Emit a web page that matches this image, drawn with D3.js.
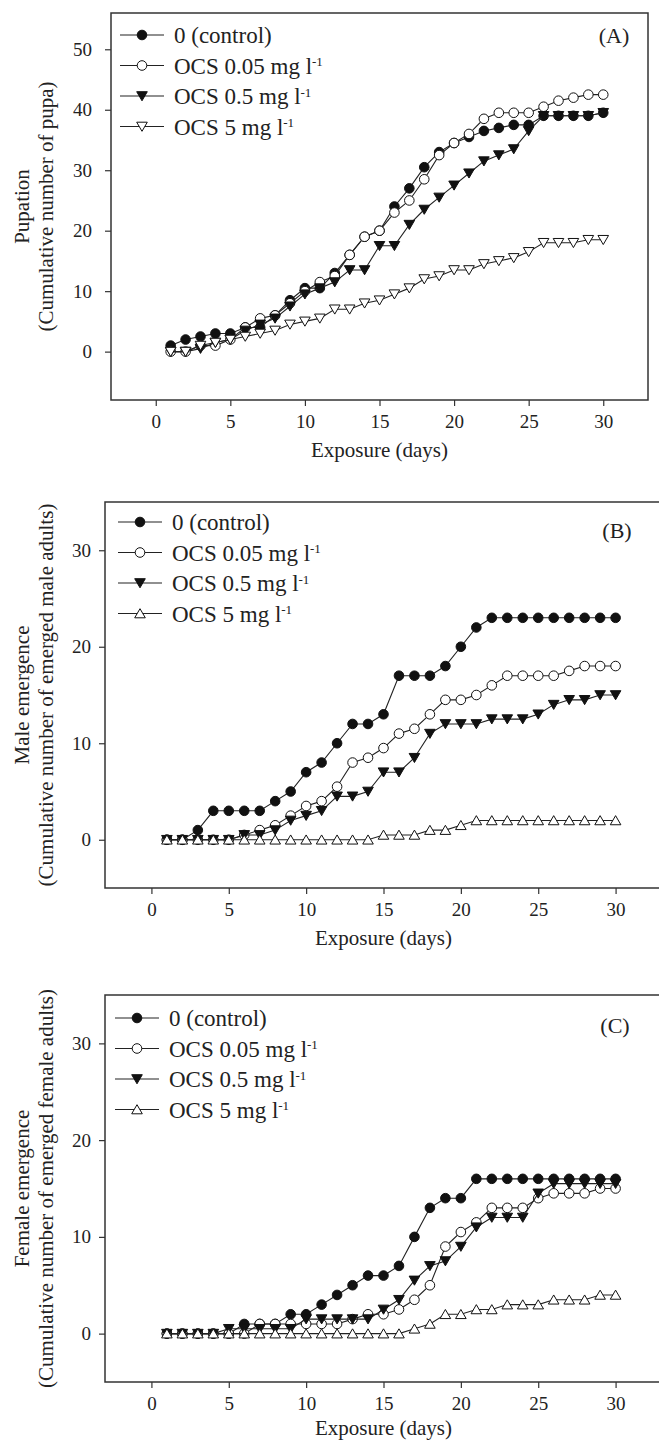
<!DOCTYPE html>
<html>
<head>
<meta charset="utf-8">
<script src="https://cdn.jsdelivr.net/npm/d3@7"></script>
<style>
  body { margin: 0; background: #fff; }
  svg { display: block; }
  text { font-family: "Liberation Serif", "Times New Roman", serif; fill: #222; }
</style>
</head>
<body>
<svg id="chart" width="659" height="1442"></svg>
<script>
// exposure days (x categories)
const days = [1, 2, 3, 4, 5, 6, 7, 8, 9, 10, 11, 12, 13, 14, 15,
              16, 17, 18, 19, 20, 21, 22, 23, 24, 25, 26, 27, 28, 29, 30];

const xTicks = [0, 5, 10, 15, 20, 25, 30];
const yTicksPupa = [0, 10, 20, 30, 40, 50];
const yTicksAdult = [0, 10, 20, 30];

// legend entries: main text + superscript
const legendNames = ["0 (control)", "OCS 0.05 mg l", "OCS 0.5 mg l", "OCS 5 mg l"];
const legendSup = ["", "-1", "-1", "-1"];

// (A) pupation, cumulative number of pupa
const pupaControl = [1, 2, 2.5, 3, 3, 4, 4, 6, 8.5, 10.5, 10.5, 13, 16, 19, 20,
                     24, 27, 30.5, 33, 34.5, 35.5, 36.5, 37, 37.5, 37.5, 39, 39, 39, 39, 39.5];
const pupa005 = [0, 0, 1, 1, 2, 4, 5.5, 6, 8, 10, 11.5, 12.5, 16, 19, 20,
                 23, 25, 28.5, 32.5, 34.5, 36, 38.5, 39.5, 39.5, 39.5, 40.5, 41.5, 42, 42.5, 42.5];
const pupa05 = [0, 0, 0.5, 1.5, 2, 3.5, 4.5, 5.5, 7.5, 9.5, 10.5, 11.5, 13.5, 13.5, 17.5,
                17.5, 21, 23.5, 25.5, 27.5, 29.5, 31.5, 32.5, 33.5, 36.5, 39, 39, 39, 39, 39.5];
const pupa5 = [0, 0, 1, 1.5, 2, 2.5, 3, 3.5, 4.5, 5, 5.5, 7, 7, 8, 8.5,
               9.5, 10.5, 12, 12.5, 13.5, 13.5, 14.5, 15, 15.5, 16.5, 18, 18, 18, 18.5, 18.5];

// (B) male emergence
const maleControl = [0, 0, 1, 3, 3, 3, 3, 4, 5, 7, 8, 10, 12, 12, 13,
                     17, 17, 17, 18, 20, 22, 23, 23, 23, 23, 23, 23, 23, 23, 23];
const male005 = [0, 0, 0, 0, 0, 0.5, 1, 1.5, 2.5, 3.5, 4, 5.5, 8, 8.5, 9.5,
                 11, 11.5, 13, 14.5, 14.5, 15, 16, 17, 17, 17, 17, 17.5, 18, 18, 18];
const male05 = [0, 0, 0, 0, 0, 0.5, 0.5, 1, 2, 2.5, 3, 4.5, 4.5, 5, 7,
                7, 8.5, 11, 12, 12, 12, 12.5, 12.5, 12.5, 13, 14, 14.5, 14.5, 15, 15];
const male5 = [0, 0, 0, 0, 0, 0, 0, 0, 0, 0, 0, 0, 0, 0, 0.5,
               0.5, 0.5, 1, 1, 1.5, 2, 2, 2, 2, 2, 2, 2, 2, 2, 2];

// (C) female emergence
const femaleControl = [0, 0, 0, 0, 0, 1, 1, 1, 2, 2, 3, 4, 5, 6, 6,
                       7, 10, 13, 14, 14, 16, 16, 16, 16, 16, 16, 16, 16, 16, 16];
const female005 = [0, 0, 0, 0, 0, 0, 1, 1, 1, 1, 1, 1, 1.5, 2, 2,
                   2.5, 3.5, 5, 9, 10.5, 11.5, 13, 13, 13, 14, 14.5, 14.5, 14.5, 15, 15];
const female05 = [0, 0, 0, 0, 0.5, 0.5, 0.5, 0.5, 0.5, 1.5, 1.5, 1.5, 1.5, 1.5, 2.5,
                  3.5, 5.5, 7, 7.5, 9, 11, 12, 12, 12, 14.5, 15.5, 15.5, 15.5, 15.5, 15.5];
const female5 = [0, 0, 0, 0, 0, 0, 0, 0, 0, 0, 0, 0, 0, 0, 0,
                 0, 0.5, 1, 2, 2, 2.5, 2.5, 3, 3, 3, 3.5, 3.5, 3.5, 4, 4];

// panel layout
const panels = [
    { tag: "(A)", series: [pupaControl, pupa005, pupa05, pupa5],
      markers: ["circleFill", "circleOpen", "downFill", "downOpen"],
      yTitle: ["Pupation", "(Cumulative number of pupa)"],
      yDomain: [-8, 56], yTicks: yTicksPupa,
      left: 111, right: 648, top: 13, bottom: 400, yPad: 13, titleGap: 50,
      legX: 120, legY: 35, tagX: 614, tagY: 35, closed: true },
    { tag: "(B)", series: [maleControl, male005, male05, male5],
      markers: ["circleFill", "circleOpen", "downFill", "upOpen"],
      yTitle: ["Male emergence", "(Cumulative number of emerged male adults)"],
      yDomain: [-5, 35], yTicks: yTicksAdult,
      left: 105, right: 662, top: 502, bottom: 888, yPad: 8, titleGap: 50,
      legX: 118, legY: 522, tagX: 617, tagY: 530, closed: false },
    { tag: "(C)", series: [femaleControl, female005, female05, female5],
      markers: ["circleFill", "circleOpen", "downFill", "upOpen"],
      yTitle: ["Female emergence", "(Cumulative number of emerged female adults)"],
      yDomain: [-5, 35], yTicks: yTicksAdult,
      left: 105, right: 662, top: 995, bottom: 1382, yPad: 8, titleGap: 46,
      legX: 115, legY: 1018, tagX: 615, tagY: 1025, closed: false }
];

const svg = d3.select("#chart");

// marker shapes
function drawMarker(g, kind, x, y) {
    if (kind.startsWith("circle")) {
        g.append("circle")
            .attr("cx", x).attr("cy", y).attr("r", 4.8)
            .attr("fill", kind === "circleFill" ? "#111" : "#fff")
            .attr("stroke", "#111").attr("stroke-width", 1);
    } else {
        const d = kind.startsWith("down")
            ? "M-5.3,-4.3L5.3,-4.3L0,4.8Z"
            : "M-5.3,4.3L5.3,4.3L0,-4.8Z";
        g.append("path")
            .attr("d", d)
            .attr("transform", `translate(${x},${y})`)
            .attr("fill", kind.endsWith("Fill") ? "#111" : "#fff")
            .attr("stroke", "#111").attr("stroke-width", 1);
    }
}

panels.forEach(p => {
    const x = d3.scaleLinear().domain([-3, 33]).range([p.left, p.right]);
    const y = d3.scaleLinear().domain(p.yDomain).range([p.bottom, p.top]);
    const g = svg.append("g");

    // x axis
    const xAxis = g.append("g")
        .attr("transform", `translate(0,${p.bottom})`)
        .call(d3.axisBottom(x).tickValues(xTicks).tickSize(6).tickPadding(9));
    xAxis.select(".domain").remove();

    // y axis
    const yAxis = g.append("g")
        .attr("transform", `translate(${p.left},0)`)
        .call(d3.axisLeft(y).tickValues(p.yTicks).tickSize(6).tickPadding(p.yPad));
    yAxis.select(".domain").remove();

    g.selectAll(".tick line").attr("stroke", "#333").attr("stroke-width", 1.2);
    g.selectAll(".tick text")
        .attr("fill", "#222")
        .style("font-family", '"Liberation Serif", "Times New Roman", serif')
        .style("font-size", "19px");

    // frame
    if (p.closed) {
        g.append("rect")
            .attr("x", p.left).attr("y", p.top)
            .attr("width", p.right - p.left).attr("height", p.bottom - p.top)
            .attr("fill", "none").attr("stroke", "#333").attr("stroke-width", 1.5);
    } else {
        g.append("path")
            .attr("d", `M${p.right + 5},${p.top}H${p.left}V${p.bottom}H${p.right + 5}`)
            .attr("fill", "none").attr("stroke", "#333").attr("stroke-width", 1.5);
    }

    // axis titles
    g.append("text")
        .attr("x", x(15)).attr("y", p.bottom + p.titleGap)
        .attr("dy", "0.35em")
        .attr("text-anchor", "middle")
        .style("font-size", "21px")
        .text("Exposure (days)");

    const yMid = (p.top + p.bottom) / 2;
    [22, 46].forEach((cx, i) => {
        g.append("text")
            .attr("transform", `translate(${cx},${yMid}) rotate(-90)`)
            .attr("dy", "0.35em")
            .attr("text-anchor", "middle")
            .style("font-size", "21px")
            .text(p.yTitle[i]);
    });

    // series lines then markers
    const line = d3.line().x((d, i) => x(days[i])).y(d => y(d));
    p.series.forEach((vals, si) => {
        g.append("path")
            .datum(vals)
            .attr("d", line)
            .attr("fill", "none")
            .attr("stroke", "#222")
            .attr("stroke-width", 1.1);
        vals.forEach((v, i) => drawMarker(g, p.markers[si], x(days[i]), y(v)));
    });

    // legend
    legendNames.forEach((name, i) => {
        const ly = p.legY + i * 30.5;
        g.append("line")
            .attr("x1", p.legX).attr("x2", p.legX + 44)
            .attr("y1", ly).attr("y2", ly)
            .attr("stroke", "#222").attr("stroke-width", 1.2);
        drawMarker(g, p.markers[i], p.legX + 22, ly);
        const t = g.append("text")
            .attr("x", p.legX + 54).attr("y", ly)
            .attr("dy", "0.35em")
            .style("font-size", "23px")
            .text(name);
        if (legendSup[i]) {
            t.append("tspan")
                .attr("dy", "-0.55em")
                .style("font-size", "13px")
                .text(legendSup[i]);
        }
    });

    // panel tag
    g.append("text")
        .attr("x", p.tagX).attr("y", p.tagY)
        .attr("dy", "0.35em")
        .attr("text-anchor", "middle")
        .style("font-size", "22px")
        .text(p.tag);
});
</script>
</body>
</html>
